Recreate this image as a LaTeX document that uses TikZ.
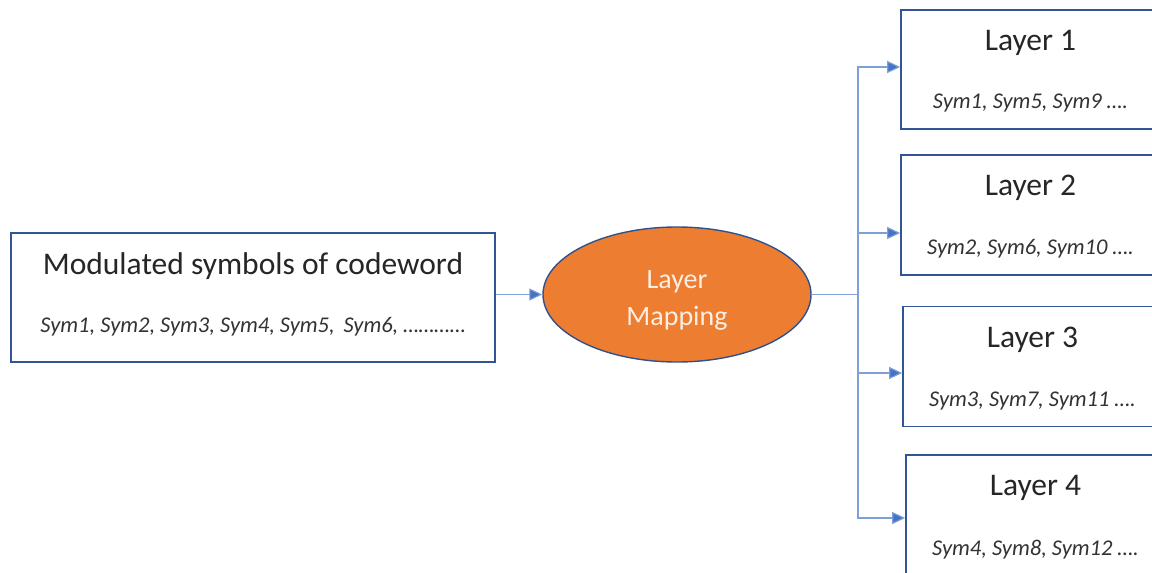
\documentclass[tikz,border=0pt]{standalone}
\usepackage{fontspec}
\setmainfont{Carlito}
\usetikzlibrary{arrows.meta,shapes.geometric}
\definecolor{boxline}{HTML}{2F5597}
\definecolor{linkblue}{HTML}{4472C4}
\definecolor{trunkblue}{HTML}{7F9FD8}
\definecolor{mapfill}{HTML}{ED7D31}
\definecolor{mapline}{HTML}{2F528F}
\definecolor{maptext}{HTML}{FDEEE4}
\tikzset{
  blockbox/.style={draw=boxline, line width=1.6pt, fill=white, inner sep=0pt},
  titletext/.style={font=\fontsize{31.5}{34}\selectfont, text=black!85},
  symtext/.style={font=\fontsize{22.5}{25}\selectfont\itshape, text=black!80},
  link/.style={draw=trunkblue, line width=1.1pt},
  arrowlink/.style={link, -{Triangle[length=13pt,width=12pt,fill=linkblue]}},
}
\begin{document}
\begin{tikzpicture}[x=1pt,y=-1pt]
\useasboundingbox (0,0) rectangle (1152,573);

% source block
\node[blockbox, minimum width=484pt, minimum height=129pt] (src) at (253,297.5) {};
\node[titletext] (srct) at ([yshift=-34pt]src.north) {Modulated symbols of codeword};
\node[symtext] (srcs) at ([yshift=-95pt]src.north) {Sym1, Sym2, Sym3, Sym4, Sym5,\, Sym6, \ldots\ldots\ldots\ldots};

% layer mapping stage
\node[ellipse, draw=mapline, line width=1.4pt, fill=mapfill,
      minimum width=268pt, minimum height=135pt, inner sep=0pt] (map) at (677,294.5) {};
\node[align=center, text=maptext, font=\fontsize{28}{37}\selectfont] (maplbl)
      at ([yshift=-6pt]map.center) {Layer\\Mapping};

% output layers
\node[blockbox, minimum width=259pt, minimum height=119pt] (l1) at (1030.5,69.5) {};
\node[blockbox, minimum width=259pt, minimum height=120pt] (l2) at (1030.5,215) {};
\node[blockbox, minimum width=259pt, minimum height=120pt] (l3) at (1032.5,366.5) {};
\node[blockbox, minimum width=259pt, minimum height=120pt] (l4) at (1035.5,515) {};

\node[titletext] (l1t) at ([yshift=-34pt]l1.north) {Layer 1};
\node[symtext]   (l1s) at ([yshift=-94pt]l1.north) {Sym1, Sym5, Sym9 \ldots.};
\node[titletext] (l2t) at ([yshift=-34pt]l2.north) {Layer 2};
\node[symtext]   (l2s) at ([yshift=-95pt]l2.north) {Sym2, Sym6, Sym10 \ldots.};
\node[titletext] (l3t) at ([yshift=-34pt]l3.north) {Layer 3};
\node[symtext]   (l3s) at ([yshift=-95pt]l3.north) {Sym3, Sym7, Sym11 \ldots.};
\node[titletext] (l4t) at ([yshift=-34pt]l4.north) {Layer 4};
\node[symtext]   (l4s) at ([yshift=-95pt]l4.north) {Sym4, Sym8, Sym12 \ldots.};

% connectors
\draw[arrowlink] (src.east |- map.west) -- (map.west);
\coordinate (trunk) at (858,294.5);
\draw[link] (map.east) -- (trunk);
\draw[arrowlink] (trunk) |- ([yshift=2.5pt]l1.west);
\draw[arrowlink] (trunk) |- ([yshift=-18pt]l2.west);
\draw[arrowlink] (trunk) |- ([yshift=-6.5pt]l3.west);
\draw[arrowlink] (trunk) |- ([yshift=-3pt]l4.west);
\end{tikzpicture}
\end{document}
